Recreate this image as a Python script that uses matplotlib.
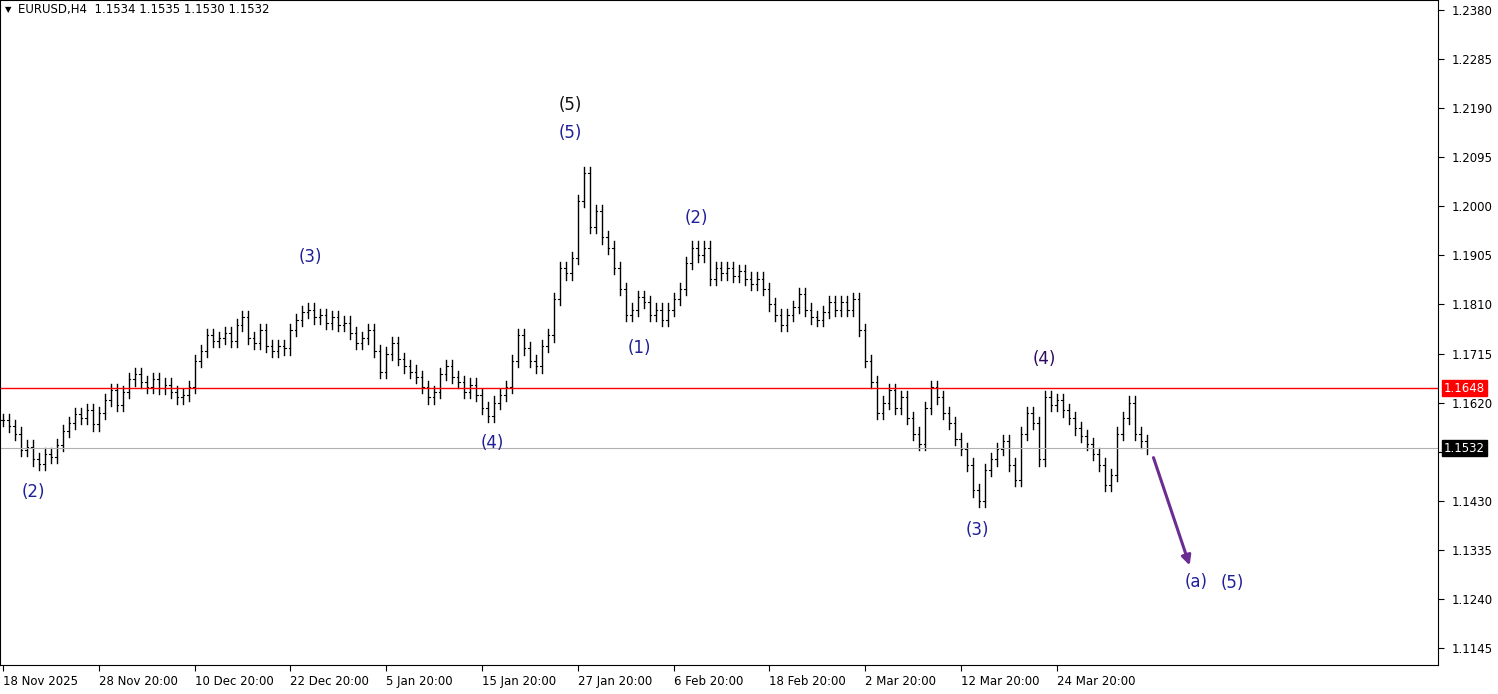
import matplotlib.pyplot as plt
from matplotlib.lines import Line2D

# closing prices, one bar per 6 px of the reference (EURUSD H4)
closes = [
    1.1586, 1.1575, 1.1560, 1.1528, 1.1535, 1.1510, 1.1502, 1.1520, 1.1515, 1.1538,
    1.1565, 1.1580, 1.1598, 1.1590, 1.1605, 1.1578, 1.1600, 1.1625, 1.1645, 1.1615,
    1.1640, 1.1665, 1.1675, 1.1660, 1.1650, 1.1665, 1.1648, 1.1655, 1.1640, 1.1630,
    1.1635, 1.1650, 1.1700, 1.1720, 1.1750, 1.1740, 1.1745, 1.1755, 1.1740, 1.1770,
    1.1785, 1.1745, 1.1735, 1.1760, 1.1730, 1.1720, 1.1730, 1.1725, 1.1760, 1.1780,
    1.1795, 1.1800, 1.1785, 1.1790, 1.1775, 1.1785, 1.1770, 1.1775, 1.1755, 1.1735,
    1.1745, 1.1760, 1.1720, 1.1680, 1.1715, 1.1735, 1.1705, 1.1690, 1.1680, 1.1670,
    1.1650, 1.1630, 1.1640, 1.1675, 1.1690, 1.1670, 1.1660, 1.1640, 1.1655, 1.1635,
    1.1610, 1.1595, 1.1620, 1.1635, 1.1650, 1.1700, 1.1750, 1.1725, 1.1700, 1.1690,
    1.1730, 1.1750, 1.1820, 1.1880, 1.1870, 1.1900, 1.2010, 1.2065, 1.1960, 1.1990,
    1.1940, 1.1920, 1.1880, 1.1840, 1.1790, 1.1800, 1.1825, 1.1815, 1.1790, 1.1800,
    1.1780, 1.1800, 1.1820, 1.1840, 1.1890, 1.1920, 1.1905, 1.1920, 1.1860, 1.1880,
    1.1870, 1.1880, 1.1865, 1.1875, 1.1860, 1.1850, 1.1860, 1.1840, 1.1810, 1.1790,
    1.1770, 1.1790, 1.1805, 1.1830, 1.1800, 1.1785, 1.1780, 1.1795, 1.1815, 1.1800,
    1.1815, 1.1800, 1.1820, 1.1760, 1.1700, 1.1660, 1.1600, 1.1620, 1.1645, 1.1610,
    1.1630, 1.1590, 1.1560, 1.1540, 1.1610, 1.1650, 1.1630, 1.1600, 1.1580, 1.1550,
    1.1530, 1.1500, 1.1450, 1.1430, 1.1490, 1.1510, 1.1530, 1.1545, 1.1500, 1.1470,
    1.1560, 1.1600, 1.1580, 1.1510, 1.1630, 1.1615, 1.1625, 1.1605, 1.1590, 1.1570,
    1.1555, 1.1540, 1.1520, 1.1500, 1.1460, 1.1480, 1.1560, 1.1590, 1.1620, 1.1560,
    1.1545, 1.1532,
]
price_ticks = [1.2380, 1.2285, 1.2190, 1.2095, 1.2000, 1.1905, 1.1810, 1.1715,
               1.1620, 1.1525, 1.1430, 1.1335, 1.1240, 1.1145]
date_labels = ["18 Nov 2025", "28 Nov 20:00", "10 Dec 20:00", "22 Dec 20:00",
               "5 Jan 20:00", "15 Jan 20:00", "27 Jan 20:00", "6 Feb 20:00",
               "18 Feb 20:00", "2 Mar 20:00", "12 Mar 20:00", "24 Mar 20:00"]
level_red = 1.1648
level_last = 1.1532

# wave labels: (text, pixel x, pixel y, colour)
waves = [
    ("(2)", 30, 492, "#1f1f99"), ("(3)", 308, 257, "#1f1f99"),
    ("(4)", 490, 443, "#1f1f99"), ("(5)", 569, 133, "#1f1f99"),
    ("(5)", 569, 105, "#111111"), ("(1)", 638, 348, "#1f1f99"),
    ("(2)", 695, 218, "#1f1f99"), ("(3)", 976, 530, "#1f1f99"),
    ("(4)", 1043, 359, "#2e0a5e"), ("(a)", 1196, 582, "#1f1f99"),
    ("(5)", 1232, 583, "#1f1f99"),
]

W, H = 1498, 694
PX = 6.0  # pixels per bar


def px_to_price(y):
    return 1.2380 - (y - 10) / 5166.0


fig = plt.figure(figsize=(W / 100, H / 100), dpi=100)
ax = fig.add_axes([0, 29 / H, 1438 / W, 1 - 29 / H])
ax.set_xlim(-0.5, 1438 / PX)
ax.set_ylim(px_to_price(665), px_to_price(0))

pad = 0.0012
prev = closes[0]
for i, c in enumerate(closes):
    o = prev
    hi = max(o, c) + pad
    lo = min(o, c) - pad
    ax.add_line(Line2D([i, i], [lo, hi], color="black", lw=1))
    ax.add_line(Line2D([i - 0.25, i], [o, o], color="black", lw=0.8))
    ax.add_line(Line2D([i, i + 0.25], [c, c], color="black", lw=0.8))
    prev = c

ax.axhline(level_red, color="red", lw=1)
ax.axhline(level_last, color="#b0b0b0", lw=0.8)

ax.yaxis.tick_right()
ax.set_yticks(price_ticks)
ax.set_yticklabels(["" if p == 1.1525 else f"{p:.4f}" for p in price_ticks], fontsize=8.5)
ax.tick_params(axis="y", length=4, pad=6)
ax.set_xticks([16 * k for k in range(len(date_labels))])
ax.set_xticklabels(date_labels, fontsize=8.5, ha="left")
ax.tick_params(axis="x", length=4, pad=3)
for s in ax.spines.values():
    s.set_color("black")
    s.set_linewidth(0.8)

ax.text(1.004, level_red, f"{level_red:.4f}", transform=ax.get_yaxis_transform(),
        va="center", ha="left", fontsize=8.5, color="white",
        bbox=dict(boxstyle="square,pad=0.15", fc="red", ec="red"))
ax.text(1.004, level_last, f"{level_last:.4f}", transform=ax.get_yaxis_transform(),
        va="center", ha="left", fontsize=8.5, color="white",
        bbox=dict(boxstyle="square,pad=0.15", fc="black", ec="black"))

for txt, x, y, col in waves:
    ax.text(x / PX, px_to_price(y), txt, color=col, fontsize=12,
            ha="center", va="center")

ax.annotate("", xy=(1190 / PX, px_to_price(568)), xytext=(1152 / PX, px_to_price(455)),
            arrowprops=dict(arrowstyle="-|>", color="#6b2d8f", lw=2.2, mutation_scale=14))

fig.text(5 / W, 1 - 10 / H, "\u25bc", fontsize=6, va="center")
fig.text(18 / W, 1 - 10 / H, "EURUSD,H4  1.1534 1.1535 1.1530 1.1532",
         fontsize=8.5, va="center")

fig.savefig("out.png", dpi=100)
